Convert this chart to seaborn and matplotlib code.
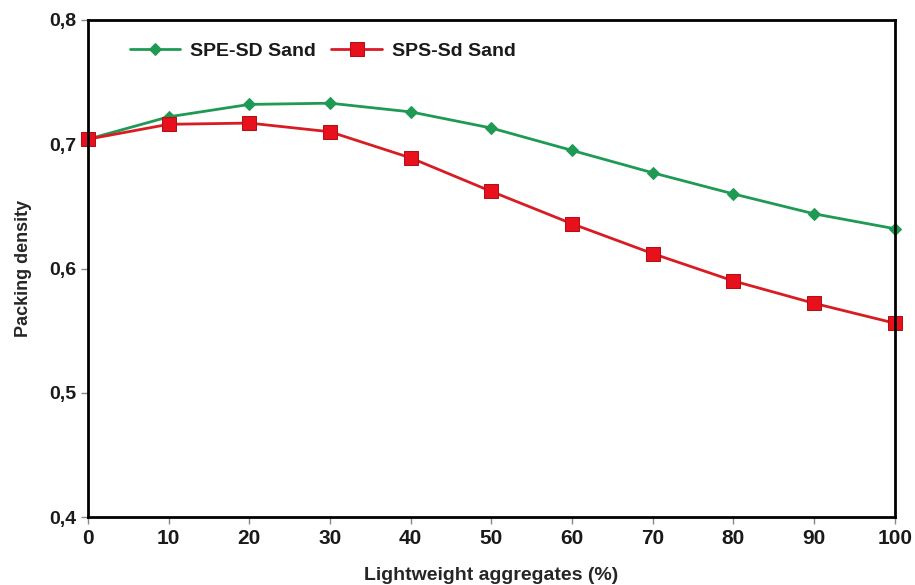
# Packing density vs lightweight aggregates
import numpy as np
import pandas as pd
import matplotlib
matplotlib.use("Agg")
import matplotlib.pyplot as plt
import seaborn as sns
from matplotlib.ticker import FuncFormatter

aggregates = [0, 10, 20, 30, 40, 50, 60, 70, 80, 90, 100]
spe_sd = [0.704, 0.722, 0.732, 0.733, 0.726, 0.713, 0.695, 0.677, 0.660, 0.644, 0.632]
sps_sd = [0.704, 0.716, 0.717, 0.710, 0.689, 0.662, 0.636, 0.612, 0.590, 0.572, 0.556]
series_names = ["SPE-SD Sand", "SPS-Sd Sand"]
x_ticks = [0, 10, 20, 30, 40, 50, 60, 70, 80, 90, 100]
y_ticks = [0.4, 0.5, 0.6, 0.7, 0.8]

df = pd.DataFrame({
    "agg": aggregates * 2,
    "density": spe_sd + sps_sd,
    "series": [series_names[0]] * len(aggregates) + [series_names[1]] * len(aggregates),
})

sns.set_style("white")
plt.rcParams["font.family"] = ["Liberation Sans", "DejaVu Sans"]
plt.rcParams["text.color"] = "#1a1a1a"

fig = plt.figure(figsize=(9.15, 5.85), dpi=100)
ax = fig.add_axes([0.096, 0.116, 0.882, 0.850])

palette = {series_names[0]: "#1f9a55", series_names[1]: "#d81c22"}
markers = {series_names[0]: "D", series_names[1]: "s"}
sns.lineplot(data=df, x="agg", y="density", hue="series", style="series",
             palette=palette, markers=markers, dashes=False, linewidth=2,
             ax=ax, legend=True, clip_on=False)

# marker sizes / edge colours
for line in ax.lines:
    if line.get_color() == "#1f9a55":
        line.set_markersize(6)
        line.set_markeredgecolor("#1f9a55")
    else:
        line.set_markersize(10)
        line.set_markeredgecolor("#b01018")
        line.set_markerfacecolor("#e8101c")

ax.set_xlim(0, 100)
ax.set_ylim(0.4, 0.8)
ax.set_xticks(x_ticks)
ax.set_yticks(y_ticks)
ax.yaxis.set_major_formatter(FuncFormatter(lambda v, p: f"{v:.1f}".replace(".", ",")))

for s in ax.spines.values():
    s.set_color("black")
    s.set_linewidth(2)

ax.tick_params(axis="both", direction="out", length=5, width=1, color="#888888",
               labelcolor="#1a1a1a", bottom=True, left=True)
for t in ax.get_xticklabels():
    t.set_fontsize(15)
    t.set_fontweight("bold")
for t in ax.get_yticklabels():
    t.set_fontsize(14)
    t.set_fontweight("bold")

ax.set_xlabel("Lightweight aggregates (%)", fontsize=14, fontweight="bold", labelpad=14)
ax.set_ylabel("Packing density", fontsize=13, fontweight="bold", labelpad=12)

handles, labels = ax.get_legend_handles_labels()
leg = ax.legend(handles, labels, loc="upper left", ncol=2, frameon=False,
                prop={"weight": "bold", "size": 14}, handlelength=2.6,
                columnspacing=0.8, handletextpad=0.5,
                bbox_to_anchor=(0.03, 0.99))
for h in leg.legend_handles:
    h.set_linewidth(2)

fig.savefig("out.png", dpi=100)
